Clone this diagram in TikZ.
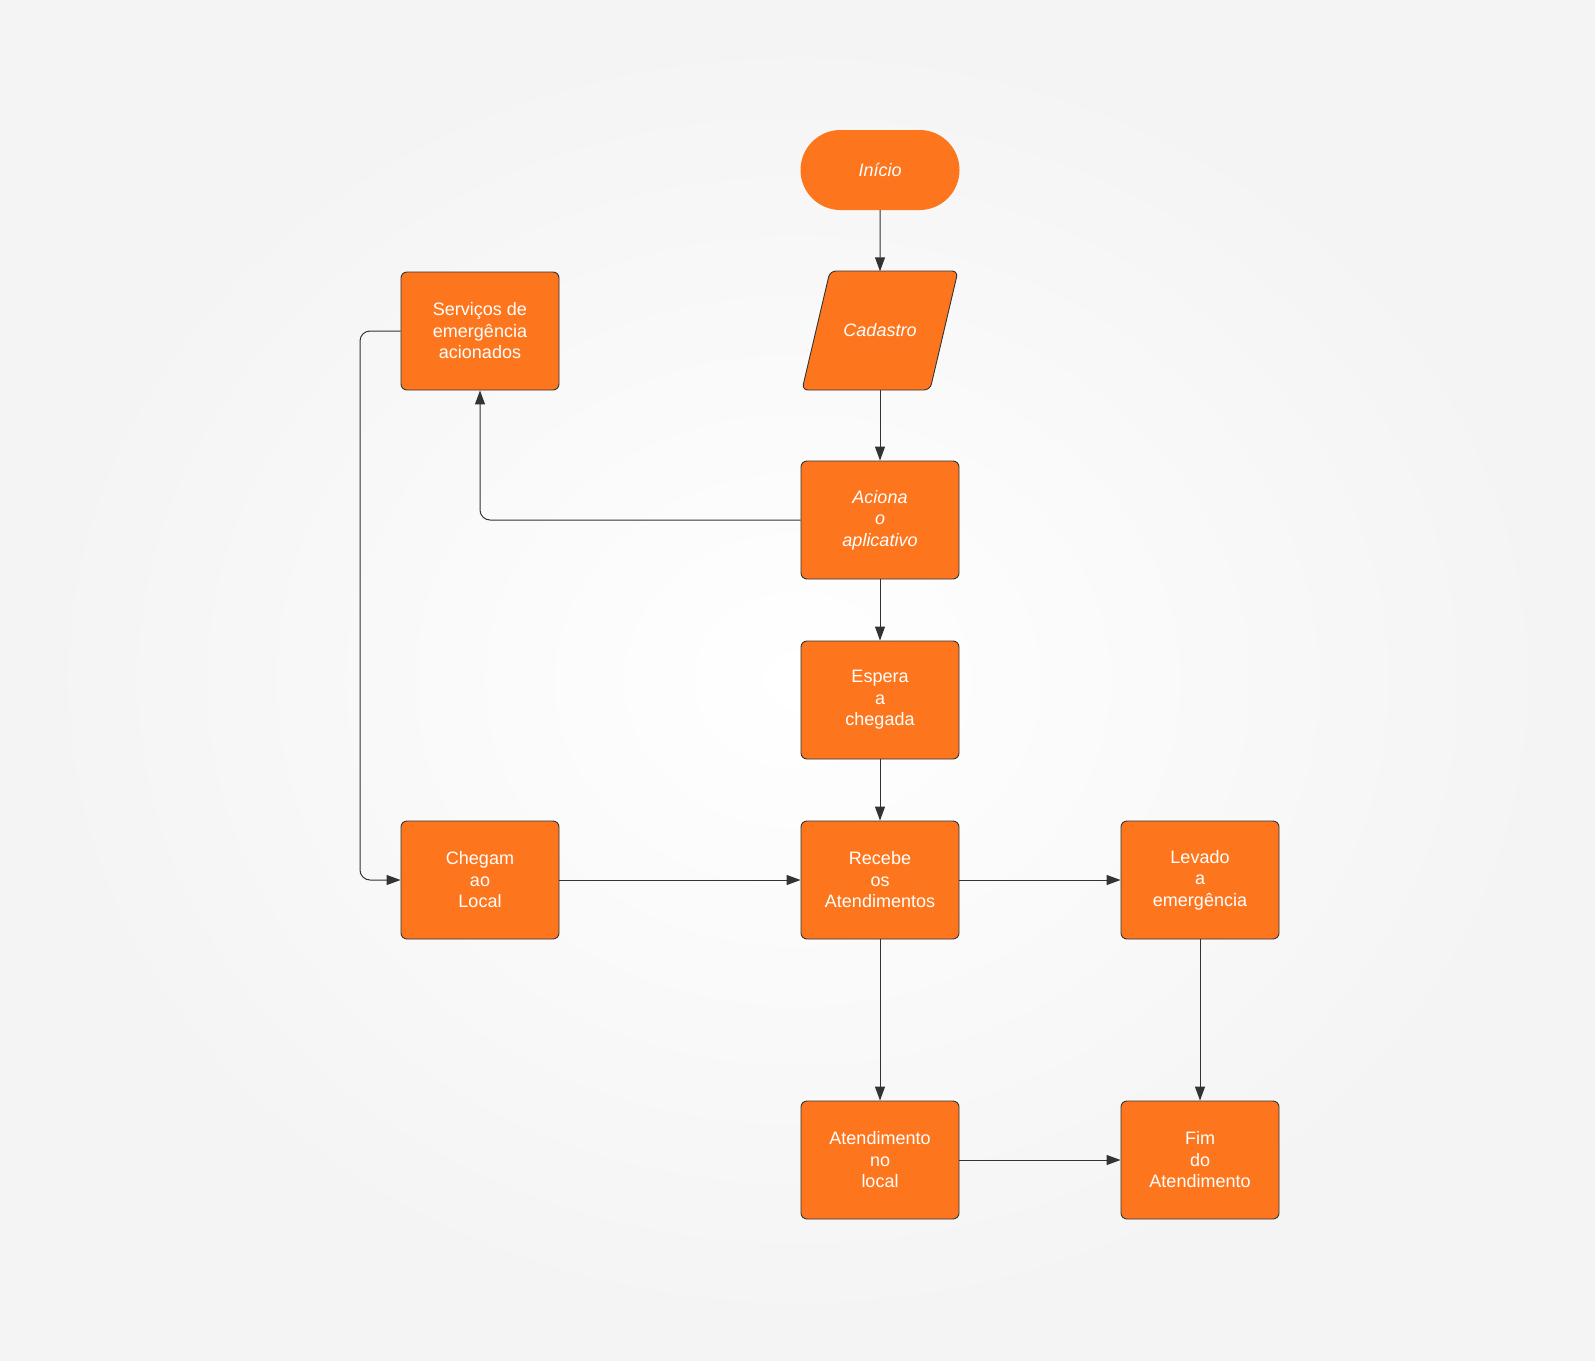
\documentclass[tikz,border=0pt]{standalone}
\usepackage{fontspec}
\setmainfont{Liberation Sans}
\usetikzlibrary{arrows.meta,shapes.misc,calc}
\definecolor{flowor}{RGB}{253,118,30}
\definecolor{edgegray}{RGB}{51,51,51}
\begin{document}
\begin{tikzpicture}[x=1pt,y=-1pt,
  box/.style={draw=edgegray,line width=0.9pt,rounded corners=6pt,fill=flowor,
    minimum width=158pt,minimum height=118pt,align=center,text=white,
    font=\fontsize{18}{21.5}\selectfont,inner sep=2pt},
  term/.style={rounded rectangle,fill=flowor,minimum width=159pt,minimum height=80pt,
    text width=80pt,align=center,inner xsep=0pt,
    text=white,font=\fontsize{18}{21.5}\selectfont\itshape},
  plain/.style={minimum width=158pt,minimum height=118pt,align=center,text=white,
    font=\fontsize{18}{21.5}\selectfont\itshape,inner sep=2pt},
  conn/.style={draw=edgegray,line width=1pt,-{Triangle[length=14pt,width=10pt]},rounded corners=10pt}]
\useasboundingbox (0,0) rectangle (1595,1360);
\shade[inner color=white,outer color=gray!9] (0,0) rectangle (1595,1360);
% parallelogram
\filldraw[draw=edgegray,line width=0.9pt,fill=flowor,rounded corners=6pt]
  (830,271) -- (958,271) -- (930,390) -- (802,390) -- cycle;
\node[term] (inicio) at (880,170) {Início};
\node[plain] (cadastro) at (880,330.5) {Cadastro};
\node[box,font=\fontsize{18}{21.5}\selectfont\itshape] (aciona) at (880,520) {Aciona\\o\\aplicativo};
\node[box] (servicos) at (480,331) {Serviços de\\emergência\\acionados};
\node[box] (espera) at (880,700) {Espera\\a\\chegada};
\node[box] (chegam) at (480,880) {Chegam\\ao\\Local};
\node[box] (recebe) at (880,880) {Recebe\\os\\Atendimentos};
\node[box] (levado) at (1200,880) {Levado\\a\\emergência};
\node[box] (atend) at (880,1160) {Atendimento\\no\\local};
\node[box] (fim) at (1200,1160) {Fim\\do\\Atendimento};
\coordinate (loopx) at (360,331);
\draw[conn] (inicio) -- (cadastro);
\draw[conn] (cadastro) -- (aciona);
\draw[conn] (aciona) -- (espera);
\draw[conn] (espera) -- (recebe);
\draw[conn] (aciona.west) -| (servicos.south);
\draw[conn] (servicos.west) -- (loopx) |- (chegam.west);
\draw[conn] (chegam) -- (recebe);
\draw[conn] (recebe) -- (levado);
\draw[conn] (recebe) -- (atend);
\draw[conn] (levado) -- (fim);
\draw[conn] (atend) -- (fim);
\end{tikzpicture}
\end{document}
